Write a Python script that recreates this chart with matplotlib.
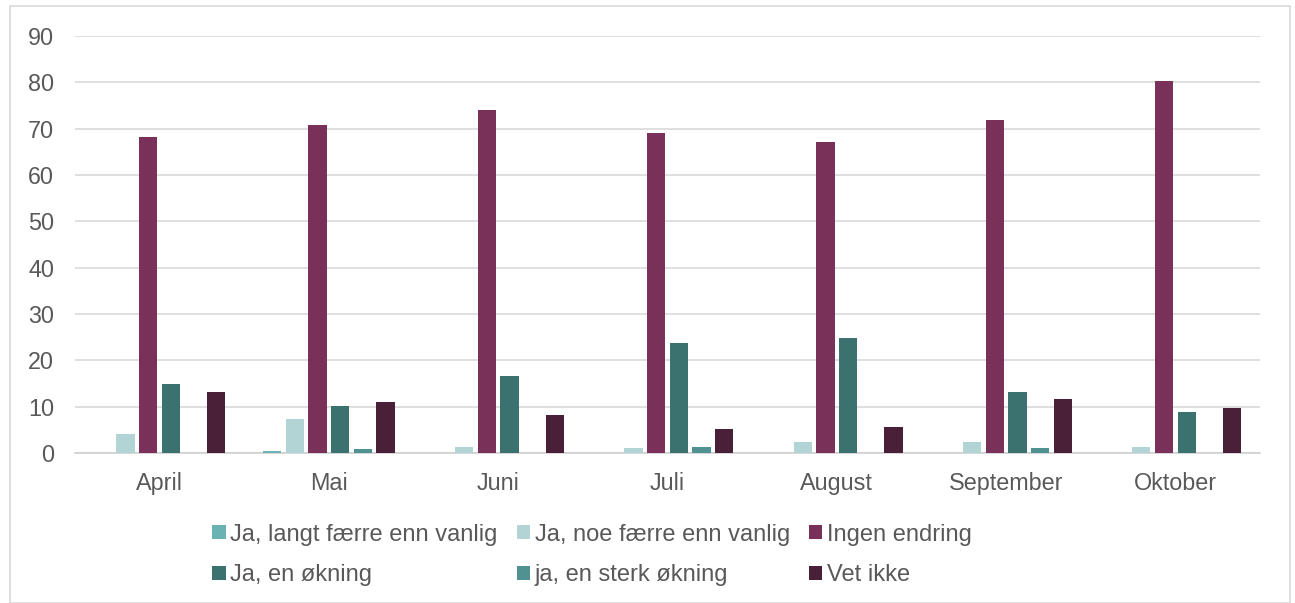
import matplotlib
matplotlib.use("Agg")
import matplotlib.pyplot as plt
import numpy as np
from matplotlib.patches import Rectangle

plt.rcParams['font.family'] = ['Liberation Sans', 'DejaVu Sans']

months = ["April", "Mai", "Juni", "Juli", "August", "September", "Oktober"]
series_names = ["Ja, langt færre enn vanlig", "Ja, noe færre enn vanlig", "Ingen endring",
                "Ja, en økning", "ja, en sterk økning", "Vet ikke"]
langt_faerre = [0.0, 0.4, 0.0, 0.0, 0.0, 0.0, 0.0]
noe_faerre = [4.1, 7.3, 1.3, 1.0, 2.4, 2.4, 1.2]
ingen_endring = [68.2, 70.7, 74.0, 69.1, 67.1, 71.8, 80.3]
okning = [14.9, 10.1, 16.7, 23.8, 24.9, 13.2, 8.8]
sterk_okning = [0.0, 0.8, 0.0, 1.3, 0.0, 1.0, 0.0]
vet_ikke = [13.1, 10.9, 8.1, 5.1, 5.6, 11.7, 9.8]
yticks = [0, 10, 20, 30, 40, 50, 60, 70, 80, 90]

colors = ["#6AB2B3", "#B2D4D5", "#7A3159", "#3B716F", "#509192", "#4A1F38"]
data = [langt_faerre, noe_faerre, ingen_endring, okning, sterk_okning, vet_ikke]

fig = plt.figure(figsize=(12.95, 6.03), dpi=100)
ax = fig.add_axes([75/1295, 1 - 453/603, (1260-75)/1295, (453-36)/603])

x = np.arange(len(months))
slot = 0.134
bw = 0.108
handles = []
for i, (vals, c, name) in enumerate(zip(data, colors, series_names)):
    h = ax.bar(x + (i - 2.5) * slot, vals, width=bw, color=c, label=name, zorder=3)
    handles.append(h)

ax.set_xlim(-0.5, len(months) - 0.5)
ax.set_ylim(0, 90)
ax.set_yticks(yticks)
ax.set_xticks(x)
ax.set_xticklabels(months)
ax.tick_params(axis='both', length=0, labelsize=16.8, colors='#595959')
ax.tick_params(axis='y', pad=15)
ax.tick_params(axis='x', pad=14)
ax.grid(axis='y', color='#D9D9D9', linewidth=1.2, zorder=0)
for s in ['top', 'right', 'left']:
    ax.spines[s].set_visible(False)
ax.spines['bottom'].set_color('#D0D0D0')
ax.spines['bottom'].set_linewidth(1.2)

order = [0, 3, 1, 4, 2, 5]
leg = fig.legend([handles[i] for i in order], [series_names[i] for i in order],
                 ncol=3, loc='center', bbox_to_anchor=(592/1295, 1 - 555/603),
                 frameon=False, fontsize=17, handlelength=0.56, handleheight=0.56,
                 handletextpad=0.2, columnspacing=0.8, labelspacing=0.8,
                 borderaxespad=0, borderpad=0, labelcolor='#595959')

fig.patches.append(Rectangle((10/1295, 0), 1280/1295, 1 - 6/603, transform=fig.transFigure,
                             fill=False, edgecolor='#D9D9D9', linewidth=1.2))

fig.savefig("out.png", dpi=100, facecolor='white')
